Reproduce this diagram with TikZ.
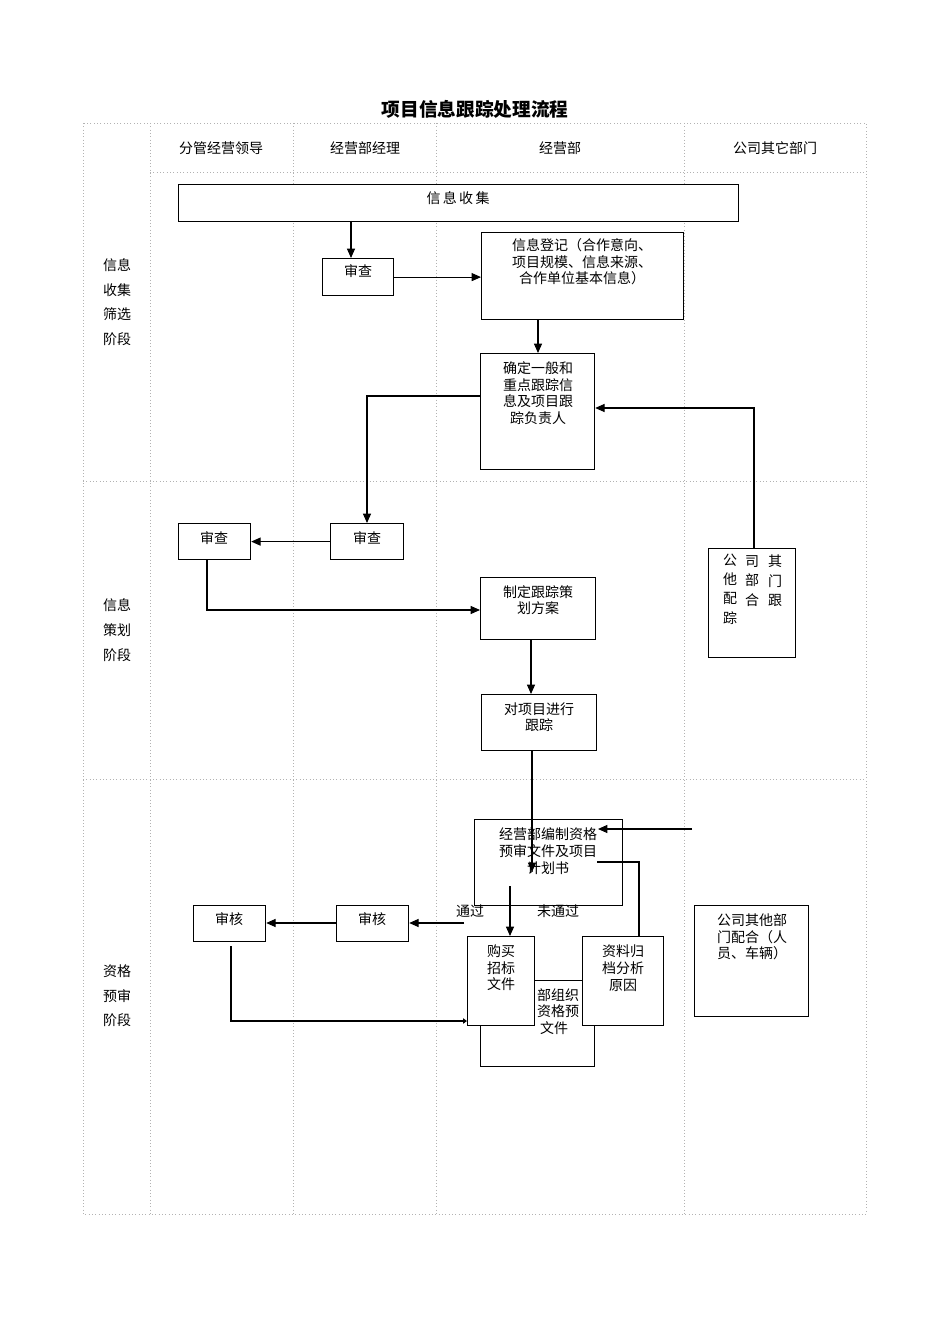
\documentclass[tikz,border=0pt]{standalone}
\usepackage{fontspec}
\newfontfamily\cjk{Noto Sans CJK SC}
\usetikzlibrary{arrows.meta}
\begin{document}
\begin{tikzpicture}[x=0.75pt,y=-0.75pt,
  box/.style={draw,line width=0.9pt,fill=white,font=\cjk\fontsize{10.5}{12}\selectfont,align=center,anchor=north west,inner sep=0pt},
  lbl/.style={font=\cjk\fontsize{10.5}{12}\selectfont,align=center,inner sep=0pt},
  grid/.style={draw=gray!60,dotted,line width=0.5pt},
  ar/.style={-{Triangle[length=7pt,width=6pt]},line width=0.8pt},
  ln/.style={line width=0.8pt}]
\useasboundingbox (0,0) rectangle (950,1344);
% grid
\draw[grid] (83,123) rectangle (866,1214);
\draw[grid] (150,123) -- (150,1214);
\draw[grid] (293,123) -- (293,1214);
\draw[grid] (436,123) -- (436,1214);
\draw[grid] (684,123) -- (684,1214);
\draw[grid] (150,172) -- (866,172);
\draw[grid] (83,481) -- (866,481);
\draw[grid] (83,779) -- (866,779);
\node[lbl,font=\cjk\bfseries\fontsize{14}{16}\selectfont] (title) at (475,109) {项目信息跟踪处理流程};
\node[lbl] (h1) at (221,148) {分管经营领导};
\node[lbl] (h2) at (365,148) {经营部经理};
\node[lbl] (h3) at (560,148) {经营部};
\node[lbl] (h4) at (775,148) {公司其它部门};
\node[lbl,font=\cjk\fontsize{10.5}{18.5}\selectfont] (s1) at (117,302) {信息\\收集\\筛选\\阶段};
\node[lbl,font=\cjk\fontsize{10.5}{18.5}\selectfont] (s2) at (117,630) {信息\\策划\\阶段};
\node[lbl,font=\cjk\fontsize{10.5}{18.5}\selectfont] (s3) at (117,996) {资格\\预审\\阶段};
% nodes
\node[box,minimum width=420pt,minimum height=27.75pt] (collect) at (178,184) {};
\node[lbl] at (458,198) {信\,息\,收\,集};
\node[box,minimum width=53.25pt,minimum height=27.75pt] (rev1) at (322,258) {};
\node[lbl] at (358,271) {审查};
\node[box,minimum width=151.5pt,minimum height=65.25pt] (reg) at (481,232) {};
\node[lbl,font=\cjk\fontsize{10.5}{12.5}\selectfont] at (582,262) {信息登记（合作意向、\\项目规模、信息来源、\\合作单位基本信息）};
\node[box,minimum width=85.5pt,minimum height=87pt] (decide) at (480,353) {};
\node[lbl,font=\cjk\fontsize{10.5}{12.5}\selectfont] at (538,393) {确定一般和\\重点跟踪信\\息及项目跟\\踪负责人};
\node[box,minimum width=54pt,minimum height=27pt] (rev2) at (178,523) {};
\node[lbl] at (214,538) {审查};
\node[box,minimum width=54.75pt,minimum height=27pt] (rev3) at (330,523) {};
\node[lbl] at (367,538) {审查};
\node[box,minimum width=86.25pt,minimum height=46.5pt] (plan) at (480,577) {};
\node[lbl,font=\cjk\fontsize{10.5}{12.5}\selectfont] at (538,600) {制定跟踪策\\划方案};
\node[box,minimum width=86.25pt,minimum height=42pt] (track) at (481,694) {};
\node[lbl,font=\cjk\fontsize{10.5}{12.5}\selectfont] at (539,717) {对项目进行\\跟踪};
\node[box,minimum width=65.25pt,minimum height=81.75pt] (other1) at (708,548) {};
\node[lbl,font=\cjk\fontsize{10.5}{14.5}\selectfont] at (730,589) {公\\他\\配\\踪};
\node[lbl,font=\cjk\fontsize{10.5}{14.5}\selectfont] at (752,581) {司\\部\\合};
\node[lbl,font=\cjk\fontsize{10.5}{14.5}\selectfont] at (775,581) {其\\门\\跟};
% bottom stage
\node[box,minimum width=85.5pt,minimum height=64.5pt] (org) at (480,980) {};
\node[lbl,font=\cjk\fontsize{10.5}{12.5}\selectfont,align=left] at (558,1003) {部组织\\资格预};
\node[box,minimum width=111pt,minimum height=64.5pt] (compile) at (474,819) {};
\node[lbl,font=\cjk\fontsize{10.5}{12.5}\selectfont] at (548,851) {经营部编制资格\\预审文件及项目\\计划书};
\node[box,minimum width=54pt,minimum height=27pt] (aud1) at (193,905) {};
\node[lbl] at (229,919) {审核};
\node[box,minimum width=54pt,minimum height=27pt] (aud2) at (336,905) {};
\node[lbl] at (372,919) {审核};
\node[box,minimum width=50.25pt,minimum height=66.75pt] (buy) at (467,936) {};
\node[lbl,font=\cjk\fontsize{10.5}{12.5}\selectfont] at (501,968) {购买\\招标\\文件};
\node[lbl] at (554,1028) {文件};
\node[box,minimum width=60.75pt,minimum height=66.75pt] (arch) at (582,936) {};
\node[lbl,font=\cjk\fontsize{10.5}{12.5}\selectfont] at (623,968) {资料归\\档分析\\原因};
\node[box,minimum width=85.5pt,minimum height=83.25pt] (other2) at (694,905) {};
\node[lbl,font=\cjk\fontsize{10.5}{12.5}\selectfont,align=left] at (752,937) {公司其他部\\门配合（人\\员、车辆）};
\node[lbl] (pass) at (470,911) {通过};
\node[lbl] (fail) at (558,911) {未通过};
% connectors
\draw[ar] (351,221) -- (rev1.north -| 351,0);
\draw[ar] (rev1.east) -- (reg.west |- rev1.east);
\draw[ar] (538,319) -- (538,353);
\draw[ar] (480,396) -- (367,396) -- (rev3.north -| 367,0);
\draw[ar] (rev3.west) -- (rev2.east);
\draw[ar] (207,559) -- (207,610) -- (plan.west |- 0,610);
\draw[ar] (other1.north -| 754,0) -- (754,408) -- (decide.east |- 0,408);
\draw[ar] (531,639) -- (track.north -| 531,0);
\draw[ar] (532,750) -- (532,872);
\draw[ar] (692,829) -- (598,829);
\draw[ln] (arch.north -| 639,0) -- (639,862) -- (597,862);
\draw[ar] (510,886) -- (buy.north -| 510,0);
\draw[ar] (464,923) -- (aud2.east |- 0,923);
\draw[ar] (aud2.west |- 0,923) -- (aud1.east |- 0,923);
\draw[-{Triangle[length=3pt,width=4pt]},line width=0.8pt] (231,946) -- (231,1021) -- (buy.west |- 0,1021);
\end{tikzpicture}
\end{document}
